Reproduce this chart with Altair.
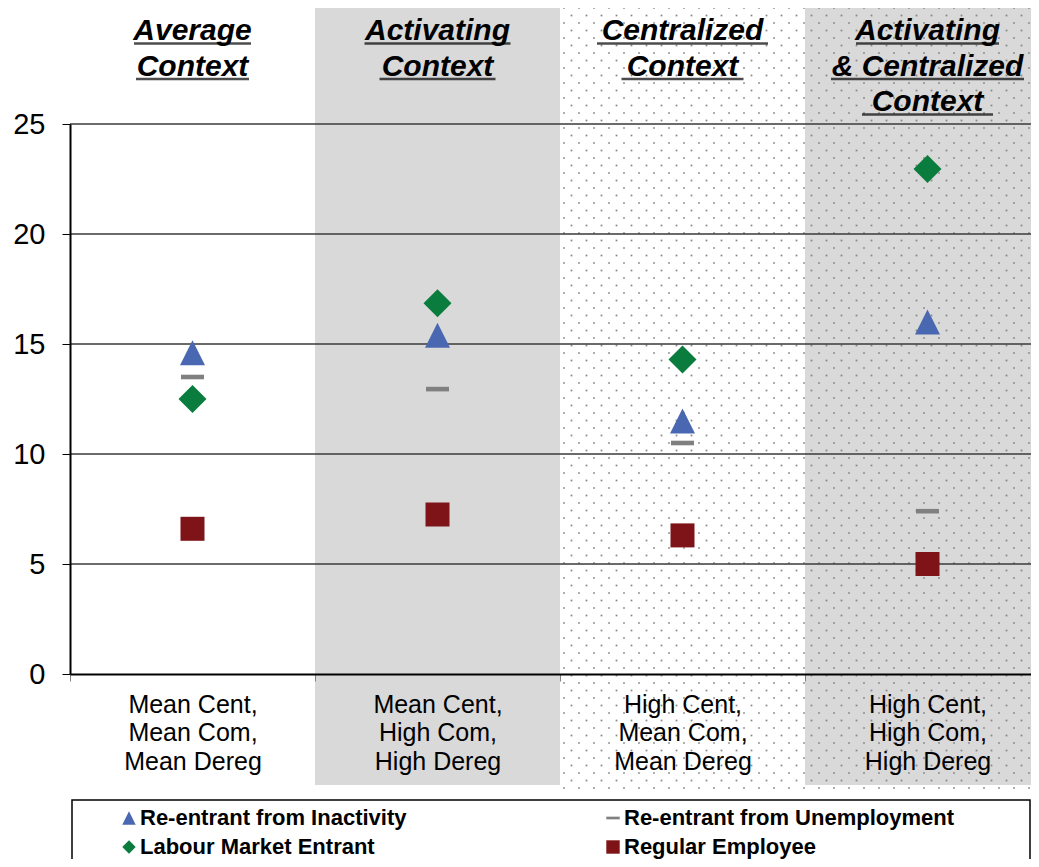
import altair as alt
import pandas as pd

# ---------------- data ----------------
categories = [
    "Mean Cent,|Mean Com,|Mean Dereg",
    "Mean Cent,|High Com,|High Dereg",
    "High Cent,|Mean Com,|Mean Dereg",
    "High Cent,|High Com,|High Dereg",
]
title_lines = [
    ["Average", "Context"],
    ["Activating", " Context"],
    [" Centralized", " Context"],
    ["Activating", "& Centralized", "Context"],
]
series = [
    "Re-entrant from Inactivity",
    "Re-entrant from Unemployment",
    "Labour Market Entrant",
    "Regular Employee",
]
inactivity = [14.6, 15.4, 11.5, 16.0]
unemployment = [13.5, 12.95, 10.5, 7.4]
entrant = [12.5, 16.85, 14.3, 22.95]
regular = [6.6, 7.25, 6.3, 5.0]
y_ticks = [0, 5, 10, 15, 20, 25]

# ---------------- styling ----------------
W, H = 961, 550
XR = 980  # band range (last band runs past the page edge, as in the original)
FONT = "Liberation Sans"
bg_fill = ["#ffffff", "#d9d9d9", "#ffffff", "#d9d9d9"]
underline_px = [[117, 113], [146, 116], [171, 122], [143, 193, 131]]
tri = "M0,-1L1,1L-1,1Z"
dash = "M-1,-0.2L1,-0.2L1,0.2L-1,0.2Z"
diamond = "M0,-1L1,0L0,1L-1,0Z"
style = {
    "Re-entrant from Inactivity": ("#4a68b2", tri, 625),
    "Re-entrant from Unemployment": ("#808080", dash, 529),
    "Labour Market Entrant": ("#0a7d3e", diamond, 784),
    "Regular Employee": ("#7e1417", "square", 576),
}
# legend is filled column by column: left column first
legend_order = [series[0], series[2], series[1], series[3]]

# ---------------- tables ----------------
pts = pd.DataFrame(
    [
        {"cat": c, "series": s, "msize": style[s][2], "value": v}
        for s, vals in zip(series, [inactivity, unemployment, entrant, regular])
        for c, v in zip(categories, vals)
    ]
)
bg = pd.DataFrame({"cat": categories, "fill": bg_fill})
tl_rows = []
for c, lines, ws in zip(categories, title_lines, underline_px):
    for i, (t, w) in enumerate(zip(lines, ws)):
        tl_rows.append({"cat": c, "line": t, "ty": -84 + 35.5 * i, "uy": -80.5 + 35.5 * i, "w": w})
titles = pd.DataFrame(tl_rows)
grid = pd.DataFrame({"v": [t for t in y_ticks if t > 0]})

x_axis = alt.Axis(
    labelExpr="split(datum.label, '|')",
    labelAngle=0,
    labelFont=FONT,
    labelFontSize=25,
    labelLineHeight=28.5,
    labelColor="black",
    labelPadding=11,
    tickBand="extent",
    tickSize=7,
    tickColor="#808080",
    domainColor="black",
    domainWidth=2,
    zindex=1,
    title=None,
)
X = alt.X(
    "cat:N",
    sort=categories,
    axis=x_axis,
    scale=alt.Scale(paddingInner=0, paddingOuter=0, range=[0, XR]),
)
y_scale = alt.Scale(domain=[0, 25], nice=False)
y_axis = alt.Axis(
    values=y_ticks,
    labelFont=FONT,
    labelFontSize=29,
    labelColor="black",
    labelPadding=17,
    tickSize=8,
    tickColor="black",
    domainColor="black",
    domainWidth=2,
    grid=False,
    zindex=1,
    title=None,
)

background = alt.Chart(bg).mark_rect().encode(
    x=X, y=alt.value(-118), y2=alt.value(661), fill=alt.Fill("fill:N", scale=None)
)

# dotted texture over the two "centralized" columns
n_cols, n_rows = 33, 105
x0 = XR / 2
dots = (
    alt.Chart(alt.sequence(0, n_cols * n_rows, as_="i"))
    .transform_calculate(r="floor(datum.i / %d)" % n_cols, c="datum.i %% %d" % n_cols)
    .transform_calculate(
        px="%f + datum.c * 15 + (datum.r %% 2) * 7.5 + 4" % x0,
        py="-116 + datum.r * 7.5",
    )
    .transform_filter("datum.px < %f" % W)
    .mark_square(size=3, color="#808080", opacity=0.95)
    .encode(x=alt.X("px:Q", scale=None, axis=None), y=alt.Y("py:Q", scale=None, axis=None))
)

gridlines = alt.Chart(grid).mark_rule(color="#3a3a3a", strokeWidth=1.5).encode(
    y=alt.Y("v:Q", scale=y_scale, axis=y_axis), x=alt.value(0), x2=alt.value(W)
)

title_text = alt.Chart(titles).mark_text(
    font=FONT, fontSize=30, fontWeight="bold", fontStyle="italic",
    baseline="alphabetic", align="center", color="black",
).encode(x=X, y=alt.Y("ty:Q", scale=None, axis=None), text="line:N")

underline = alt.Chart(titles).mark_tick(thickness=2.5, color="black", orient="horizontal").encode(
    x=X, y=alt.Y("uy:Q", scale=None, axis=None), size=alt.Size("w:Q", scale=None)
)

points = alt.Chart(pts).mark_point(filled=True, opacity=1).encode(
    x=X,
    y=alt.Y("value:Q", scale=y_scale, axis=y_axis),
    shape=alt.Shape(
        "series:N",
        scale=alt.Scale(domain=legend_order, range=[style[s][1] for s in legend_order]),
        title=None,
    ),
    color=alt.Color(
        "series:N",
        scale=alt.Scale(domain=legend_order, range=[style[s][0] for s in legend_order]),
        title=None,
    ),
    size=alt.Size("msize:Q", scale=None),
)

legend_box = alt.Chart(pd.DataFrame({"a": [0]})).mark_rect(
    fill="white", fillOpacity=0, stroke="black", strokeWidth=1.5
).encode(x=alt.value(2), x2=alt.value(W - 1), y=alt.value(676), y2=alt.value(800))

chart = (
    alt.layer(background, dots, gridlines, underline, title_text, legend_box, points)
    .properties(
        width=W,
        height=H,
        padding={"left": 62, "top": 116, "right": 0, "bottom": 185},
        autosize=alt.AutoSizeParams(type="none"),
    )
    .configure_view(stroke=None)
    .configure(font=FONT)
    .configure_legend(
        orient="none",
        legendX=48,
        legendY=683,
        columns=2,
        columnPadding=195,
        rowPadding=7,
        labelFont=FONT,
        labelFontSize=22,
        labelFontWeight="bold",
        labelColor="black",
        labelLimit=800,
        labelOffset=0,
        symbolSize=180,
        symbolStrokeWidth=0,
    )
)

chart.save("out.html", embed_options={"renderer": "svg", "actions": False})
